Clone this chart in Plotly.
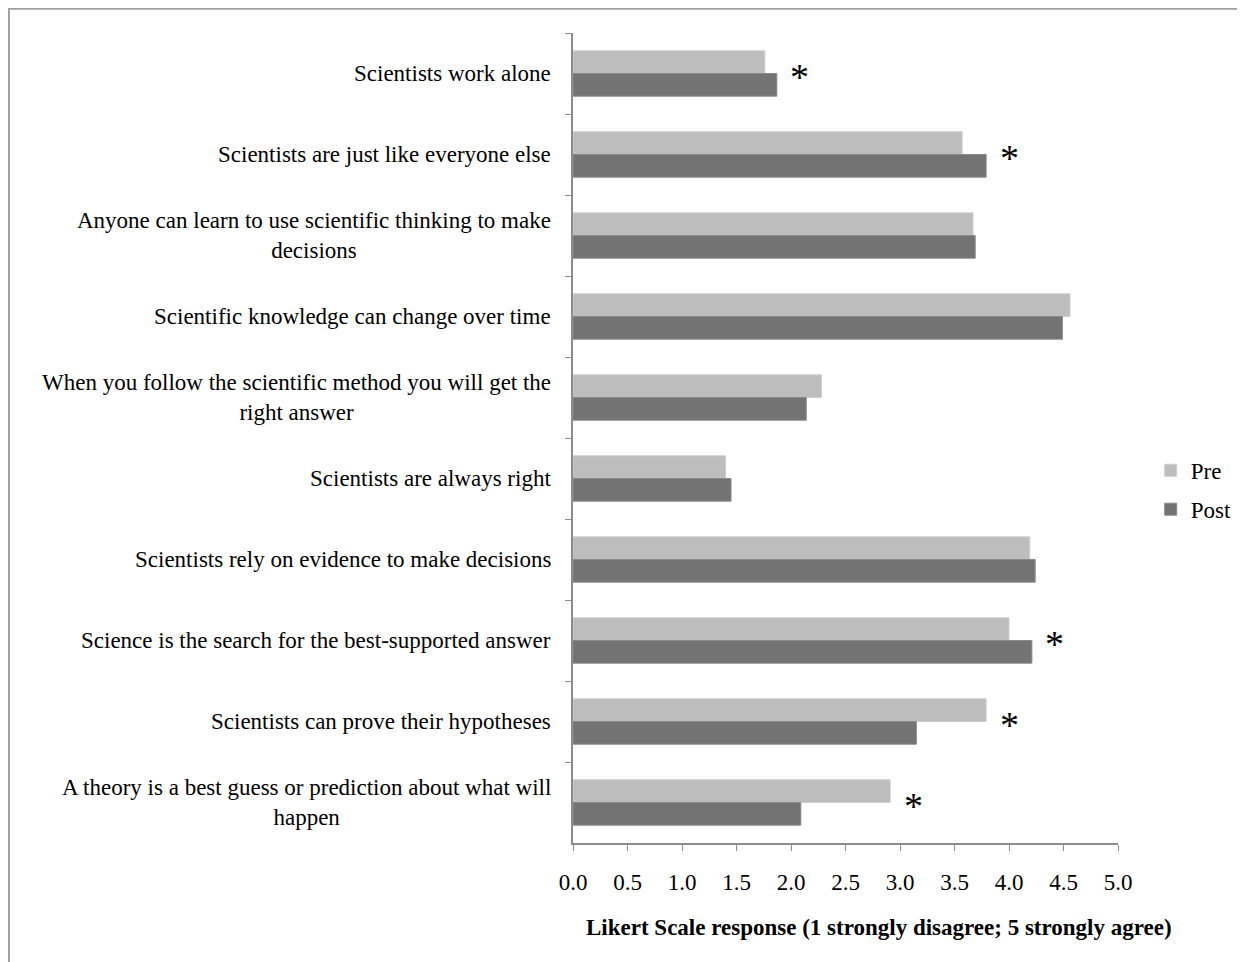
import plotly.graph_objects as go

categories = [
    "Scientists work alone",
    "Scientists are just like everyone else",
    "Anyone can learn to use scientific thinking to make<br>decisions",
    "Scientific knowledge can change over time",
    "When you follow the scientific method you will get the<br>right answer",
    "Scientists are always right",
    "Scientists rely on evidence to make decisions",
    "Science is the search for the best-supported answer",
    "Scientists can prove their hypotheses",
    "A theory is a best guess or prediction about what will<br>happen",
]
pre = [1.76, 3.57, 3.67, 4.56, 2.28, 1.40, 4.19, 4.00, 3.79, 2.91]
post = [1.87, 3.79, 3.69, 4.49, 2.14, 1.45, 4.24, 4.21, 3.15, 2.09]
significant = [True, True, False, False, False, False, False, True, True, True]
x_ticks = [0.0, 0.5, 1.0, 1.5, 2.0, 2.5, 3.0, 3.5, 4.0, 4.5, 5.0]
x_title = "Likert Scale response (1 strongly disagree; 5 strongly agree)"

FONT = "Liberation Serif"
FS = 23
fig = go.Figure()
fig.add_trace(go.Bar(y=categories, x=pre, name="Pre", orientation="h", legendgroup="pre",
                     marker=dict(color="#BDBDBD", line=dict(color="#CFCFCF", width=1))))
fig.add_trace(go.Bar(y=categories, x=post, name="Post", orientation="h", legendgroup="post",
                     marker=dict(color="#737373", line=dict(color="#8A8A8A", width=1))))

annotations = []
for c in categories:
    annotations.append(dict(x=0, y=c, xref="x", yref="y", text=c, showarrow=False,
                            xanchor="right", align="center", xshift=-20,
                            font=dict(family=FONT, size=FS, color="black")))
for c, p, q, s in zip(categories, pre, post, significant):
    if s:
        annotations.append(dict(x=max(p, q), y=c, xref="x", yref="y", text="*",
                                showarrow=False, xanchor="center", xshift=23, yshift=-3,
                                font=dict(family=FONT, size=38, color="black")))
annotations.append(dict(x=0.562, y=0, xref="paper", yref="paper", yanchor="top", yshift=-70,
                        text="<b>" + x_title + "</b>", showarrow=False, xanchor="center",
                        font=dict(family=FONT, size=FS, color="black")))

fig.update_layout(
    width=1237, height=954,
    barmode="group", bargap=0.44, bargroupgap=0,
    paper_bgcolor="white", plot_bgcolor="white",
    margin=dict(l=565, r=127, t=25, b=119, autoexpand=False),
    font=dict(family=FONT, size=FS, color="black"),
    xaxis=dict(range=[0, 5], tickvals=x_ticks, ticktext=[f"{v:.1f}" for v in x_ticks],
               showgrid=False, zeroline=False, showline=True, linecolor="#8C8C8C", linewidth=1.5,
               ticks="outside", ticklen=6, tickcolor="#8C8C8C", ticklabelstandoff=12,
               tickfont=dict(family=FONT, size=FS), automargin=False),
    yaxis=dict(autorange="reversed", showticklabels=False, showgrid=False, zeroline=False,
               showline=True, linecolor="#8C8C8C", linewidth=1.5, ticks="outside", ticklen=6,
               tickcolor="#8C8C8C", tickson="boundaries", automargin=False),
    legend=dict(x=1.06, y=0.436, xanchor="left", yanchor="middle", traceorder="grouped",
                tracegroupgap=6, font=dict(family=FONT, size=FS), itemwidth=30),
    annotations=annotations,
    shapes=[dict(type="rect", xref="paper", yref="paper", x0=-1.035, x1=1.25, y0=-0.16, y1=1.03,
                 line=dict(color="#A0A0A0", width=2), layer="below")],
)
fig.write_html("out.html")
